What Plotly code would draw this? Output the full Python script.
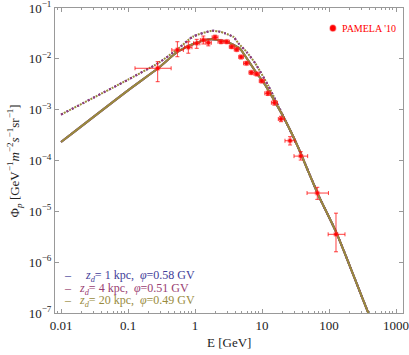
import plotly.graph_objects as go

# PAMELA '10 data points
pam_E = [0.277, 0.545, 0.794, 1.06, 1.33, 1.58, 1.99, 2.44, 2.97, 3.53, 4.19, 4.86,
         5.84, 6.92, 8.34, 9.91, 12.2, 15.3, 19.2, 26.2, 37.8, 66.8, 127]
pam_E_lo = [0.127, 0.45, 0.70, 0.95, 1.2, 1.45, 1.8, 2.2, 2.7, 3.25, 3.85, 4.5,
            5.3, 6.4, 7.6, 9.1, 11.0, 13.8, 17.5, 22, 30, 47, 97]
pam_E_hi = [0.44, 0.67, 0.90, 1.18, 1.45, 1.75, 2.2, 2.7, 3.25, 3.85, 4.5, 5.3,
            6.4, 7.6, 9.1, 10.8, 13.5, 17, 21.5, 31, 48, 98, 173]
pam_flux = [6.52e-3, 1.49e-2, 1.69e-2, 2.02e-2, 2.34e-2, 2.07e-2, 2.65e-2, 2.17e-2,
            2.17e-2, 1.73e-2, 1.53e-2, 1.09e-2, 8.17e-3, 5.38e-3, 5.04e-3, 3.66e-3,
            2.10e-3, 1.37e-3, 6.55e-4, 2.45e-4, 1.22e-4, 2.29e-5, 3.53e-6]
pam_flux_hi = [8.8e-3, 2.17e-2, 2.17e-2, 2.42e-2, 2.81e-2, 2.42e-2, 2.9e-2, 2.35e-2,
               2.35e-2, 1.87e-2, 1.65e-2, 1.18e-2, 8.8e-3, 5.8e-3, 5.45e-3, 3.95e-3,
               2.3e-3, 1.52e-3, 7.4e-4, 2.94e-4, 1.49e-4, 2.97e-5, 9.2e-6]
pam_flux_lo = [3.55e-3, 1.1e-2, 1.29e-2, 1.61e-2, 1.96e-2, 1.8e-2, 2.4e-2, 2.0e-2,
               2.0e-2, 1.6e-2, 1.41e-2, 1.0e-2, 7.55e-3, 4.95e-3, 4.65e-3, 3.38e-3,
               1.9e-3, 1.23e-3, 5.8e-4, 2.02e-4, 1.02e-4, 1.72e-5, 1.6e-6]

# model curves (the three z_d models lie on top of each other)
solid_E = [0.01, 0.1, 0.28, 0.55, 1.0, 1.73, 2.97, 4.64, 5.26, 8.34, 10.4,
           13.2, 16.6, 20.8, 27.7, 36.9, 49.1, 69.2, 130, 386, 500]
solid_flux = [2.31e-4, 2.4e-3, 6.52e-3, 1.38e-2, 2.02e-2, 2.42e-2, 2.17e-2,
              1.61e-2, 1.29e-2, 5.19e-3, 3.55e-3, 2.10e-3, 1.24e-3, 7.27e-4, 3.43e-4,
              1.49e-4, 6.02e-5, 2.09e-5, 3.70e-6, 1.0e-7, 4.5e-8]

dot_E = [0.01, 0.1, 0.28, 0.55, 0.94, 1.79, 2.36, 2.79, 3.72, 4.45, 5.9, 7.9, 12.5,
         20.8, 36.9, 69.2, 130, 386, 500]
dot_flux = [8.0e-4, 3.9e-3, 8.2e-3, 1.55e-2, 2.75e-2, 3.57e-2, 3.42e-2, 3.18e-2,
            2.72e-2, 2.02e-2, 1.36e-2, 8.2e-3, 2.9e-3, 7.4e-4, 1.5e-4, 2.1e-5,
            3.7e-6, 1.0e-7, 4.5e-8]

models = ["  <i>z<sub>d</sub></i>= 1 kpc,  <i>φ</i>=0.58 GV",
          "<i>z<sub>d</sub></i>= 4 kpc,  <i>φ</i>=0.51 GV",
          "<i>z<sub>d</sub></i>= 20 kpc,  <i>φ</i>=0.49 GV"]
colors = ["rgb(63,61,153)", "rgb(153,61,113)", "rgb(153,139,61)"]

y_tickvals = [1e-7, 1e-6, 1e-5, 1e-4, 1e-3, 1e-2, 1e-1]
y_ticktext = ["10<sup>−7</sup>", "10<sup>−6</sup>", "10<sup>−5</sup>", "10<sup>−4</sup>",
              "10<sup>−3</sup>", "10<sup>−2</sup>", "10<sup>−1</sup>"]
x_tickvals = [0.01, 0.1, 1, 10, 100, 1000]
x_ticktext = ["0.01", "0.1", "1", "10", "100", "1000"]

FONT = "Liberation Serif, Times New Roman, Times, serif"

fig = go.Figure()

# dotted curves, dash phase shifted so the colours interleave
dashes = ["2px,4px", "2px,4px", "0px,3px,2px,1px"]
for c, d in zip(colors, dashes):
    fig.add_trace(go.Scatter(x=dot_E, y=dot_flux, mode="lines", showlegend=False,
                             line=dict(color=c, width=2, dash=d, shape="spline", smoothing=0.6)))

for c in colors:
    fig.add_trace(go.Scatter(x=solid_E, y=solid_flux, mode="lines", showlegend=False,
                             line=dict(color=c, width=2, shape="spline", smoothing=0.6)))

fig.add_trace(go.Scatter(
    x=pam_E, y=pam_flux, mode="markers", name="PAMELA '10", showlegend=False,
    marker=dict(color="red", size=4, line=dict(color="rgba(255,60,60,0.35)", width=2)),
    error_x=dict(type="data", symmetric=False,
                 array=[h - e for h, e in zip(pam_E_hi, pam_E)],
                 arrayminus=[e - l for e, l in zip(pam_E, pam_E_lo)],
                 color="rgba(255,0,0,0.75)", thickness=1, width=2),
    error_y=dict(type="data", symmetric=False,
                 array=[h - f for h, f in zip(pam_flux_hi, pam_flux)],
                 arrayminus=[f - l for f, l in zip(pam_flux, pam_flux_lo)],
                 color="rgba(255,0,0,0.75)", thickness=1, width=2),
))

# PAMELA legend entry, top right
fig.add_shape(type="circle", xref="paper", yref="paper", x0=0.79, x1=0.807, y0=0.924, y1=0.944,
              fillcolor="red", line=dict(color="rgba(255,60,60,0.4)", width=1.5))
fig.add_annotation(xref="paper", yref="paper", x=0.82, y=0.934, xanchor="left", yanchor="middle",
                   showarrow=False, text="PAMELA '10", font=dict(family=FONT, size=10, color="red"))

# model legend in the lower left
for i, (m, c) in enumerate(zip(models, colors)):
    fig.add_annotation(xref="paper", yref="paper", x=0.02, y=0.12 - i * 0.041,
                       xanchor="left", yanchor="middle", showarrow=False,
                       text=f"<span style='color:{c}'>–</span>   " + m,
                       font=dict(family=FONT, size=12, color=c))

# axis titles
fig.add_annotation(xref="paper", yref="paper", x=0.5, y=-0.098, xanchor="center", yanchor="middle",
                   showarrow=False, text="E [GeV]", font=dict(family=FONT, size=13, color="#222"))
fig.add_annotation(xref="paper", yref="paper", x=-0.118, y=0.5, xanchor="center", yanchor="middle",
                   showarrow=False, textangle=-90,
                   text="Φ<sub><i>p</i></sub> [GeV<sup>−1</sup><i>m</i><sup>−2</sup><i>s</i><sup>−1</sup>sr<sup>−1</sup>]",
                   font=dict(family=FONT, size=13, color="#222"))

axis_common = dict(type="log", showline=True, linecolor="#999", linewidth=1, mirror="allticks",
                   ticks="inside", tickcolor="#999", ticklen=4, showgrid=False, zeroline=False,
                   automargin=False, ticklabeloverflow="allow",
                   tickfont=dict(family=FONT, size=13, color="#222"))

fig.update_xaxes(range=[-2.09, 3.104], tickmode="array", tickvals=x_tickvals, ticktext=x_ticktext,
                 minor=dict(ticks="inside", ticklen=2, tickcolor="#999", dtick="D1"),
                 **axis_common)
fig.update_yaxes(range=[-7, -1], tickmode="array", tickvals=y_tickvals, ticktext=y_ticktext,
                 **axis_common)

fig.update_layout(
    width=409, height=355, margin=dict(l=55, r=6, t=8, b=42),
    plot_bgcolor="white", paper_bgcolor="white",
)

# drop the default 8px page margin so the figure sits at the window origin
fig.write_html("out.html", config={"displayModeBar": False},
               post_script="document.body.style.margin='0';")
